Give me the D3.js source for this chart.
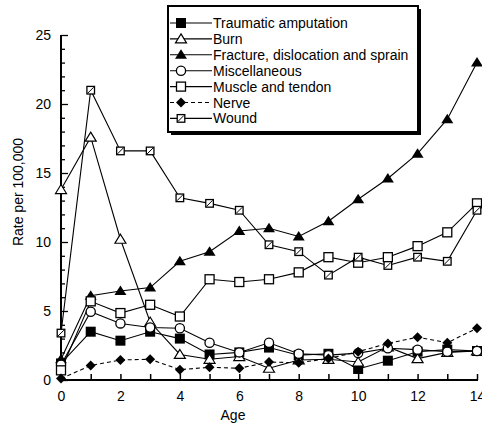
<!DOCTYPE html>
<html><head><meta charset="utf-8">
<script src="https://cdn.jsdelivr.net/npm/d3@7"></script>
<style>body{margin:0;background:#fff}svg{display:block}text{font-family:"Liberation Sans",Arial,sans-serif;fill:#000}</style>
</head><body><svg id="c" width="482" height="423"></svg>
<script>
const ages = [0,1,2,3,4,5,6,7,8,9,10,11,12,13,14];
const seriesNames = ["Traumatic amputation","Burn","Fracture, dislocation and sprain","Miscellaneous","Muscle and tendon","Nerve","Wound"];
const amputation = [1.2,3.5,2.85,3.5,3.0,1.85,2.0,2.35,1.8,1.9,0.8,1.4,2.05,2.2,2.1];
const burn       = [13.8,17.6,10.2,4.2,1.85,1.5,1.7,0.85,1.45,1.5,1.3,2.4,1.55,2.0,2.1];
const fracture   = [1.5,6.1,6.45,6.7,8.6,9.3,10.8,11.0,10.4,11.5,13.1,14.6,16.4,18.9,23.0];
const misc       = [1.1,4.95,4.1,3.8,3.75,2.7,2.0,2.7,1.9,1.8,1.95,2.3,2.2,2.05,2.1];
const muscle     = [0.7,5.7,4.85,5.45,4.6,7.3,7.1,7.3,7.8,8.9,8.5,8.9,9.7,10.7,12.8];
const nerve      = [0.1,1.05,1.45,1.5,0.75,0.92,0.85,1.3,1.25,1.55,2.05,2.65,3.1,2.7,3.75];
const wound      = [3.4,21.0,16.6,16.6,13.2,12.8,12.3,9.8,9.3,7.6,8.9,8.3,8.9,8.6,12.3];
const yTicks = [0,5,10,15,20,25];
const xTicks = [0,2,4,6,8,10,12,14];
const allValues = [amputation,burn,fracture,misc,muscle,nerve,wound];
const markerKinds = ["fsquare","otri","ftri","ocircle","osquare","fdiamond","wsquare"];
const dashed = [false,false,false,false,false,true,false];

const svg = d3.select("#c");
const x = d3.scaleLinear().domain([0,14]).range([61,477]);
const y = d3.scaleLinear().domain([0,25]).range([380,35]);
const FS = 14;

// axes
const gx = svg.append("g").attr("transform","translate(0,380)");
gx.call(d3.axisBottom(x).tickValues(d3.range(0,15)).tickSize(-6).tickFormat(""));
gx.select(".domain").remove();
gx.selectAll("line").attr("stroke","#000").attr("stroke-width",1.5);
gx.append("line").attr("x1",60).attr("x2",478).attr("stroke","#000").attr("stroke-width",2);
const gxl = svg.append("g").attr("transform","translate(0,380)");
gxl.call(d3.axisBottom(x).tickValues(xTicks).tickSize(0).tickPadding(11).tickFormat(d3.format("d")));
gxl.select(".domain").remove();
gxl.selectAll("text").attr("font-size",FS).attr("font-family","Liberation Sans, Arial, sans-serif");

const gy = svg.append("g").attr("transform","translate(61,0)");
gy.call(d3.axisRight(y).tickValues(d3.range(0,26).filter(v=>v%5)).tickSize(4).tickFormat(""));
gy.select(".domain").remove();
gy.selectAll("line").attr("stroke","#000").attr("stroke-width",1.3);
const gy2 = svg.append("g").attr("transform","translate(61,0)");
gy2.call(d3.axisRight(y).tickValues(yTicks).tickSize(7).tickFormat(""));
gy2.select(".domain").remove();
gy2.selectAll("line").attr("stroke","#000").attr("stroke-width",1.3);
gy2.append("line").attr("y1",35).attr("y2",381).attr("stroke","#000").attr("stroke-width",2);
const gyl = svg.append("g").attr("transform","translate(51,0)");
gyl.call(d3.axisLeft(y).tickValues(yTicks).tickSize(0).tickPadding(0).tickFormat(d3.format("d")));
gyl.select(".domain").remove();
gyl.selectAll("text").attr("font-size",FS).attr("font-family","Liberation Sans, Arial, sans-serif");

svg.append("text").attr("x",233).attr("y",420).attr("text-anchor","middle").attr("font-size",FS).text("Age");
svg.append("text").attr("transform","translate(23,192) rotate(-90)").attr("text-anchor","middle").attr("font-size",FS).text("Rate per 100,000");

function drawMarker(g, kind, cx, cy){
  const s = 5;
  if(kind==="fsquare") g.append("rect").attr("x",cx-s).attr("y",cy-s).attr("width",2*s).attr("height",2*s).attr("fill","#000");
  else if(kind==="osquare") g.append("rect").attr("x",cx-s+0.5).attr("y",cy-s+0.5).attr("width",2*s-1).attr("height",2*s-1).attr("fill","#fff").attr("stroke","#000").attr("stroke-width",1.3);
  else if(kind==="wsquare"){
    g.append("rect").attr("x",cx-3.8).attr("y",cy-3.8).attr("width",7.6).attr("height",7.6).attr("fill","#fff").attr("stroke","#000").attr("stroke-width",1.3);
    g.append("line").attr("x1",cx-3).attr("y1",cy+3).attr("x2",cx+3).attr("y2",cy-3).attr("stroke","#000").attr("stroke-width",1);
  }
  else if(kind==="ocircle") g.append("circle").attr("cx",cx).attr("cy",cy).attr("r",4.6).attr("fill","#fff").attr("stroke","#000").attr("stroke-width",1.3);
  else if(kind==="otri") g.append("path").attr("d",`M${cx},${cy-5}L${cx+5.5},${cy+4}L${cx-5.5},${cy+4}Z`).attr("fill","#fff").attr("stroke","#000").attr("stroke-width",1.2);
  else if(kind==="ftri") g.append("path").attr("d",`M${cx},${cy-5.5}L${cx+6},${cy+4}L${cx-6},${cy+4}Z`).attr("fill","#000");
  else if(kind==="fdiamond") g.append("path").attr("d",`M${cx},${cy-5}L${cx+5},${cy}L${cx},${cy+5}L${cx-5},${cy}Z`).attr("fill","#000");
}

const line = d3.line().x((d,i)=>x(ages[i])).y(d=>y(d));
allValues.forEach((vals,k)=>{
  svg.append("path").attr("d",line(vals)).attr("fill","none").attr("stroke","#000").attr("stroke-width",1.1)
     .attr("stroke-dasharray",dashed[k]?"4,3":null);
});
allValues.forEach((vals,k)=>{
  const g = svg.append("g");
  vals.forEach((v,i)=>drawMarker(g, markerKinds[k], x(ages[i]), y(v)));
});

// legend
const lg = svg.append("g");
lg.append("rect").attr("x",171).attr("y",9).attr("width",250).attr("height",126).attr("fill","#000");
lg.append("rect").attr("x",168).attr("y",6).attr("width",250).attr("height",126).attr("fill","#fff").attr("stroke","#000").attr("stroke-width",2);
seriesNames.forEach((name,k)=>{
  const ly = 23 + k*15.9;
  lg.append("line").attr("x1",170).attr("x2",212).attr("y1",ly).attr("y2",ly).attr("stroke","#000").attr("stroke-width",1.1)
    .attr("stroke-dasharray",dashed[k]?"4,3":null);
  drawMarker(lg, markerKinds[k], 181, ly);
  lg.append("text").attr("x",213).attr("y",ly+5).attr("font-size",FS).text(name);
});
</script></body></html>
